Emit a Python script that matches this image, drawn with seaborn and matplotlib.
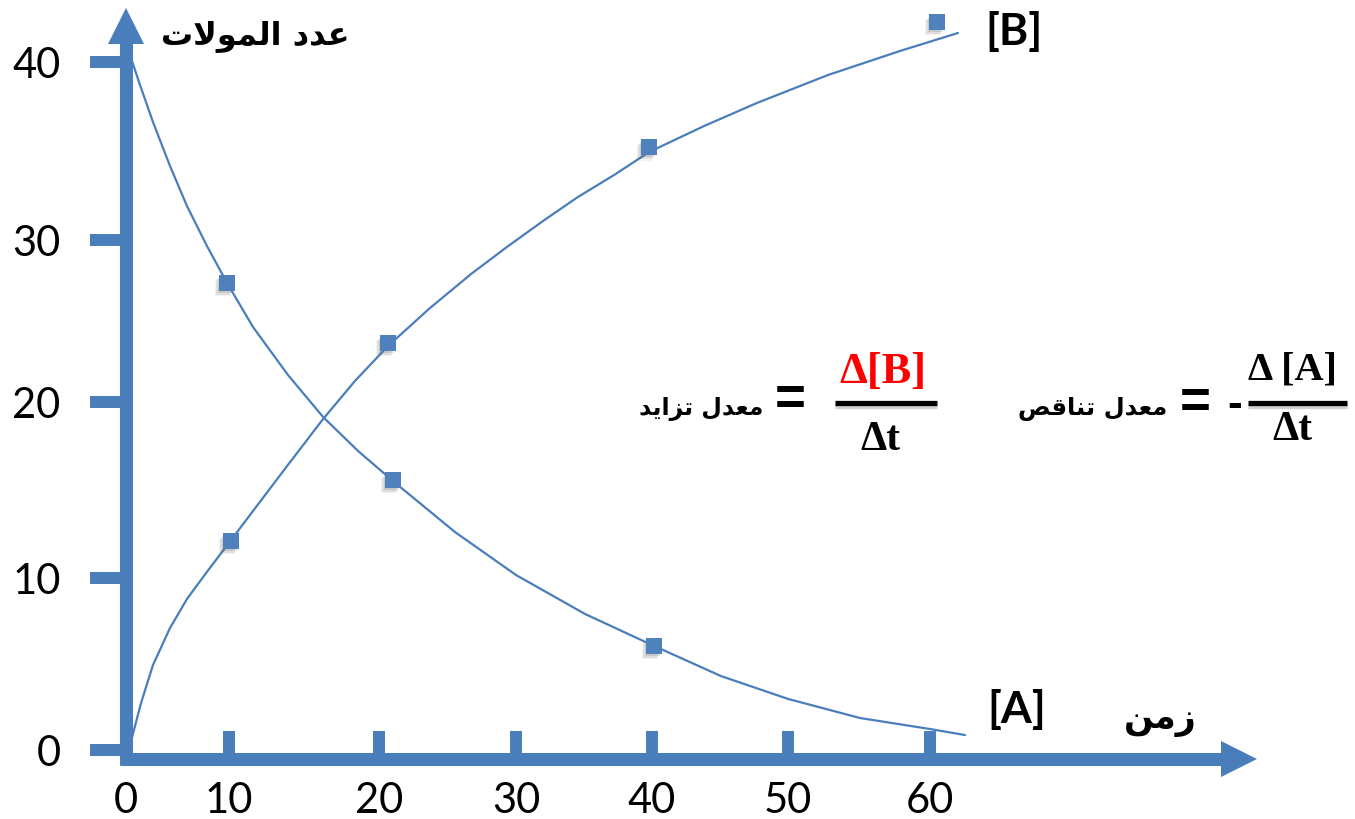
import matplotlib
matplotlib.use("Agg")
import matplotlib.pyplot as plt
import matplotlib.patheffects as pe
from matplotlib.lines import Line2D
import numpy as np
import pandas as pd
import seaborn as sns

# ---------------- data ----------------
time_ticks = [0, 10, 20, 30, 40, 50, 60]
mole_ticks = [0, 10, 20, 30, 40]

curve_A_t = [0.5, 1.36, 2.62, 4.27, 5.92, 7.86, 9.81, 11.6, 13.93, 16.27, 18.6, 21.02,
             25.55, 30.0, 35.07, 40.15, 45.07, 50.0, 55.07, 60.0, 62.5]
curve_A_n = [40.2, 38.71, 36.63, 34.16, 31.91, 29.63, 27.35, 24.63, 21.67, 19.15, 17.22, 15.51,
             12.61, 10.17, 7.91, 6.05, 4.30, 2.97, 1.86, 1.22, 0.87]
points_A_t = [9.81, 21.02, 40.15]
points_A_n = [27.35, 15.57, 6.05]

curve_B_t = [0.39, 1.46, 2.62, 4.27, 5.92, 7.77, 9.61, 11.8, 13.87, 16.27, 18.4, 20.66, 23.72,
             26.72, 29.34, 31.99, 34.56, 37.21, 39.78, 43.82, 47.72, 52.82, 57.89, 62.0]
curve_B_n = [0.29, 2.73, 4.94, 7.09, 8.78, 10.28, 11.70, 14.03, 16.36, 19.03, 21.30, 23.46, 25.80,
             27.90, 29.57, 31.07, 32.42, 33.65, 34.94, 36.40, 37.70, 39.27, 40.62, 41.63]
points_B_t = [10.13, 20.66, 39.78, 60.5]
points_B_n = [12.10, 23.64, 35.22, 42.25]

y_title = "عدد المولات"
x_title = "زمن"
label_A = "[A]"
label_B = "[B]"
rate_inc = "معدل تزايد"
rate_dec = "معدل تناقص"

# ---------------- Arabic shaping (presentation forms, visual order) ----------------
FORMS = {  # isolated, final, initial, medial
    "ا": ("\uFE8D", "\uFE8E", None, None),
    "ت": ("\uFE95", "\uFE96", "\uFE97", "\uFE98"),
    "د": ("\uFEA9", "\uFEAA", None, None),
    "ز": ("\uFEAF", "\uFEB0", None, None),
    "ص": ("\uFEB9", "\uFEBA", "\uFEBB", "\uFEBC"),
    "ع": ("\uFEC9", "\uFECA", "\uFECB", "\uFECC"),
    "ق": ("\uFED5", "\uFED6", "\uFED7", "\uFED8"),
    "ل": ("\uFEDD", "\uFEDE", "\uFEDF", "\uFEE0"),
    "م": ("\uFEE1", "\uFEE2", "\uFEE3", "\uFEE4"),
    "ن": ("\uFEE5", "\uFEE6", "\uFEE7", "\uFEE8"),
    "و": ("\uFEED", "\uFEEE", None, None),
    "ي": ("\uFEF1", "\uFEF2", "\uFEF3", "\uFEF4"),
}
LAM_ALEF = ("\uFEFB", "\uFEFC")


def shape_ar(text):
    def dual(c):
        return c in FORMS and FORMS[c][2] is not None
    out, i, n = [], 0, len(text)
    while i < n:
        c = text[i]
        if c not in FORMS:
            out.append(c)
            i += 1
            continue
        jp = i > 0 and dual(text[i - 1])
        if c == "ل" and i + 1 < n and text[i + 1] == "ا":
            out.append(LAM_ALEF[1] if jp else LAM_ALEF[0])
            i += 2
            continue
        jn = dual(c) and i + 1 < n and text[i + 1] in FORMS
        iso, fin, ini, med = FORMS[c]
        out.append(med if (jp and jn) else fin if jp else ini if jn else iso)
        i += 1
    return "".join(reversed(out))


# ---------------- style ----------------
sns.set_style("white")
plt.rcParams["font.family"] = ["Lato", "DejaVu Sans"]

AXIS = "#4A7EBB"
LINE = "#4A7EBB"
MARK = "#4F81BD"

W, H = 1355, 819
fig = plt.figure(figsize=(W / 100, H / 100), dpi=100)
ax = fig.add_axes([0, 0, 1, 1])

# hand-drawn axes of the original: tick marks are not evenly spaced,
# so both scales are piecewise linear through the drawn tick positions
XK_T = [-20, 0, 10, 20, 30, 40, 50, 60, 100]
XK_P = [-74, 126, 229, 379, 516, 652, 788, 930, 1490]
YK_N = [-20, 0, 10, 20, 30, 40, 80]
YK_P = [-1094, -750, -578, -402, -240, -62, 650]


def fwd_x(t):
    return np.interp(t, XK_T, XK_P)


def inv_x(p):
    return np.interp(p, XK_P, XK_T)


def fwd_y(n):
    return np.interp(n, YK_N, YK_P)


def inv_y(p):
    return np.interp(p, YK_P, YK_N)


ax.set_xscale("function", functions=(fwd_x, inv_x))
ax.set_yscale("function", functions=(fwd_y, inv_y))
ax.set_xlim(float(inv_x(0)), float(inv_x(W)))
ax.set_ylim(float(inv_y(-H)), float(inv_y(0)))


def dx(px):
    return float(inv_x(px))


def dy(py):
    return float(inv_y(-py))


# axes (thick blue arrows)
for s in ["top", "right"]:
    ax.spines[s].set_visible(False)
xaxis_y = dy(758.5)
ax.spines["left"].set_position(("data", 0))
ax.spines["left"].set_bounds(dy(765), dy(42))
ax.spines["bottom"].set_position(("data", xaxis_y))
ax.spines["bottom"].set_bounds(dx(120), dx(1223))
for s in ["left", "bottom"]:
    ax.spines[s].set_linewidth(9.4)
    ax.spines[s].set_color(AXIS)
    ax.spines[s].set_capstyle("butt")

ax.plot([0], [dy(25.5)], marker="^", ms=25.5, color=AXIS, mew=0, clip_on=False)
ax.plot([dx(1238.5)], [xaxis_y], marker=">", ms=25.5, color=AXIS, mew=0, clip_on=False)

ax.set_xticks(time_ticks)
ax.set_xticklabels([str(v) for v in time_ticks])
ax.set_yticks(mole_ticks)
ax.set_yticklabels([str(v) for v in mole_ticks])
ax.minorticks_off()
ax.tick_params(axis="y", which="major", left=True, direction="out", length=26, width=8.6,
               color=AXIS, pad=21, labelsize=30, labelcolor="black")
ax.tick_params(axis="x", which="major", bottom=True, direction="in", length=20.5, width=8.6,
               color=AXIS, pad=17, labelsize=30, labelcolor="black")
ax.get_xticklabels()[0].set_x(0.5)
ax.grid(False)

# curves
dfA = pd.DataFrame({"t": curve_A_t, "n": curve_A_n})
dfB = pd.DataFrame({"t": curve_B_t, "n": curve_B_n})
sns.lineplot(data=dfA, x="t", y="n", sort=False, estimator=None, color=LINE, lw=1.6, ax=ax)
sns.lineplot(data=dfB, x="t", y="n", sort=False, estimator=None, color=LINE, lw=1.6, ax=ax)

shadow = [
    pe.SimplePatchShadow(offset=(-1.2, -1.6), shadow_rgbFace="#666666", alpha=0.18),
    pe.SimplePatchShadow(offset=(-2.4, -3.0), shadow_rgbFace="#666666", alpha=0.14),
    pe.SimplePatchShadow(offset=(-3.4, -4.2), shadow_rgbFace="#666666", alpha=0.08),
    pe.Normal(),
]
ptsA = pd.DataFrame({"t": points_A_t, "n": points_A_n})
ptsB = pd.DataFrame({"t": points_B_t, "n": points_B_n})
for d in (ptsA, ptsB):
    sns.scatterplot(data=d, x="t", y="n", marker="s", s=120, color=MARK, edgecolor="none",
                    linewidth=0, ax=ax, zorder=5, path_effects=shadow, clip_on=False)
ax.set_xlabel("")
ax.set_ylabel("")


# ---------------- texts ----------------
def fx(p):
    return p / W


def fy(p):
    return 1 - p / H


AR = dict(family=["DejaVu Sans"], weight="bold", color="black", ha="center", va="center")
fig.text(fx(255), fy(36), shape_ar(y_title), fontsize=23, **AR)
fig.text(fx(1160), fy(720), shape_ar(x_title), fontsize=25, **AR)
fig.text(fx(701), fy(409), shape_ar(rate_inc), fontsize=17, **AR)
fig.text(fx(1093), fy(409), shape_ar(rate_dec), fontsize=17.5, **AR)

LB = dict(family=["Lato", "DejaVu Sans"], weight="bold", color="black", ha="center", va="center", fontsize=32)
fig.text(fx(1014), fy(31), label_B, **LB)
fig.text(fx(1017), fy(710), label_A, **LB)

SER = dict(family=["Liberation Serif", "DejaVu Serif"], weight="bold", ha="center", va="center")
SG = dict(family=["Liberation Sans", "DejaVu Sans"], weight="bold", ha="center", va="center", color="black")
fig.text(fx(883), fy(372), "\u0394[B]", fontsize=32, color="#FF0000", **SER)
fig.text(fx(880), fy(440), "\u0394t", fontsize=30, color="black", **SER)
fig.text(fx(790), fy(400), "=", fontsize=38, **SG)

fig.text(fx(1292), fy(370), "\u0394 [A]", fontsize=29, color="black", **SER)
fig.text(fx(1292), fy(430), "\u0394t", fontsize=30, color="black", **SER)
fig.text(fx(1195), fy(403), "=", fontsize=38, **SG)
fig.text(fx(1235), fy(406), "-", fontsize=32, **SG)

bar_fx = [pe.SimpleLineShadow(offset=(0, -2), shadow_color="#888888", alpha=0.4), pe.Normal()]
for x1, x2 in [(835, 937), (1248, 1347)]:
    fig.add_artist(Line2D([fx(x1), fx(x2)], [fy(403), fy(403)], transform=fig.transFigure,
                          color="black", lw=3.8, solid_capstyle="butt", path_effects=bar_fx))

fig.savefig("out.png", dpi=100)
